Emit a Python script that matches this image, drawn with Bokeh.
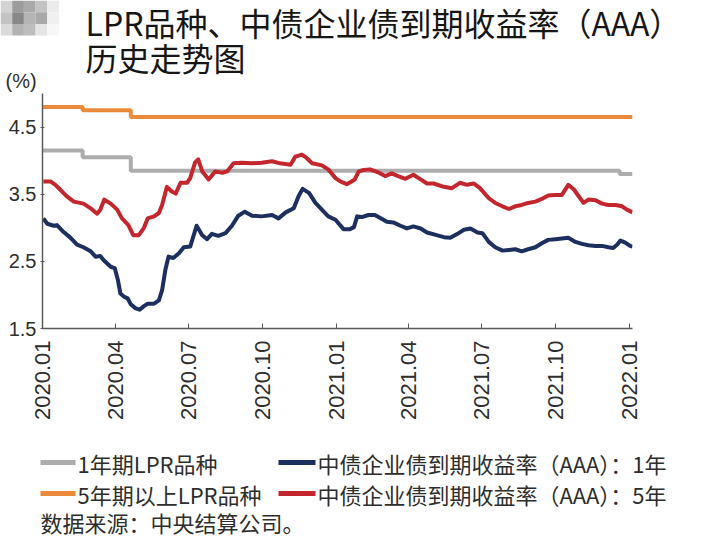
import math
import pandas as pd
from bokeh.plotting import figure
from bokeh.layouts import column
from bokeh.models import Range1d, FixedTicker, DatetimeTickFormatter
from bokeh.core.properties import value
from bokeh.embed import file_html
from bokeh.resources import INLINE

# ---------------- data ----------------
tick_dates = ["2020-01-01", "2020-04-01", "2020-07-01", "2020-10-01", "2021-01-01",
              "2021-04-01", "2021-07-01", "2021-10-01", "2022-01-01"]
tick_labels = ["2020.01", "2020.04", "2020.07", "2020.10", "2021.01",
               "2021.04", "2021.07", "2021.10", "2022.01"]
y_ticks = [1.5, 2.5, 3.5, 4.5]

lpr1_dates = ["2020-01-01", "2020-02-20", "2020-04-20", "2021-12-20", "2022-01-05"]
lpr1_vals = [4.15, 4.05, 3.85, 3.80, 3.80]

lpr5_dates = ["2020-01-01", "2020-02-20", "2020-04-20", "2022-01-05"]
lpr5_vals = [4.80, 4.75, 4.65, 4.65]

aaa1_dates = ["2020-01-02", "2020-01-07", "2020-01-15", "2020-01-19", "2020-01-27", "2020-02-05",
              "2020-02-13", "2020-02-21", "2020-03-01", "2020-03-07", "2020-03-13", "2020-03-17",
              "2020-03-26", "2020-03-31", "2020-04-04", "2020-04-07", "2020-04-12", "2020-04-16",
              "2020-04-20", "2020-04-26", "2020-05-01", "2020-05-06", "2020-05-11", "2020-05-19",
              "2020-05-25", "2020-05-29", "2020-06-02", "2020-06-06", "2020-06-12", "2020-06-19",
              "2020-06-25", "2020-07-03", "2020-07-11", "2020-07-18", "2020-07-24", "2020-07-30",
              "2020-08-07", "2020-08-16", "2020-08-24", "2020-09-01", "2020-09-09", "2020-09-18",
              "2020-09-30", "2020-10-13", "2020-10-21", "2020-10-30", "2020-11-09", "2020-11-15",
              "2020-11-20", "2020-11-28", "2020-12-06", "2020-12-14", "2020-12-22", "2020-12-31",
              "2021-01-10", "2021-01-18", "2021-01-23", "2021-01-27", "2021-02-02", "2021-02-10",
              "2021-02-18", "2021-02-27", "2021-03-05", "2021-03-13", "2021-03-22", "2021-03-30",
              "2021-04-07", "2021-04-16", "2021-04-24", "2021-05-06", "2021-05-15", "2021-05-23",
              "2021-06-01", "2021-06-09", "2021-06-17", "2021-06-26", "2021-07-02", "2021-07-10",
              "2021-07-18", "2021-07-27", "2021-08-04", "2021-08-12", "2021-08-20", "2021-08-28",
              "2021-09-06", "2021-09-14", "2021-09-22", "2021-10-01", "2021-10-09", "2021-10-17",
              "2021-10-26", "2021-11-03", "2021-11-11", "2021-11-20", "2021-11-28", "2021-12-06",
              "2021-12-12", "2021-12-17", "2021-12-21", "2021-12-27", "2022-01-02", "2022-01-05"]
aaa1_vals = [3.14, 3.06, 3.03, 3.04, 2.94, 2.85,
             2.75, 2.71, 2.65, 2.57, 2.58, 2.52,
             2.42, 2.40, 2.22, 2.02, 1.97, 1.95,
             1.86, 1.80, 1.78, 1.83, 1.87, 1.87,
             1.92, 2.07, 2.37, 2.57, 2.55, 2.62,
             2.71, 2.72, 3.03, 2.89, 2.83, 2.91,
             2.88, 2.92, 3.03, 3.18, 3.24, 3.18,
             3.17, 3.19, 3.14, 3.23, 3.29, 3.47,
             3.58, 3.52, 3.37, 3.27, 3.17, 3.12,
             2.98, 2.98, 3.01, 3.17, 3.16, 3.19,
             3.19, 3.13, 3.09, 3.08, 3.03, 2.99,
             3.02, 2.99, 2.93, 2.89, 2.86, 2.85,
             2.91, 2.97, 2.99, 2.93, 2.92, 2.79,
             2.71, 2.66, 2.67, 2.68, 2.65, 2.68,
             2.71, 2.77, 2.82, 2.83, 2.84, 2.85,
             2.79, 2.76, 2.74, 2.73, 2.73, 2.71,
             2.70, 2.75, 2.81, 2.78, 2.73, 2.72]

aaa5_dates = ["2020-01-02", "2020-01-11", "2020-01-17", "2020-01-23", "2020-01-31", "2020-02-09",
              "2020-02-21", "2020-03-01", "2020-03-09", "2020-03-13", "2020-03-18", "2020-03-26",
              "2020-04-03", "2020-04-09", "2020-04-17", "2020-04-23", "2020-04-30", "2020-05-06",
              "2020-05-11", "2020-05-19", "2020-05-25", "2020-05-29", "2020-06-04", "2020-06-10",
              "2020-06-15", "2020-06-21", "2020-06-29", "2020-07-03", "2020-07-09", "2020-07-13",
              "2020-07-18", "2020-07-26", "2020-08-03", "2020-08-12", "2020-08-18", "2020-08-26",
              "2020-09-05", "2020-09-18", "2020-09-30", "2020-10-13", "2020-10-23", "2020-11-05",
              "2020-11-11", "2020-11-19", "2020-11-25", "2020-12-02", "2020-12-14", "2020-12-22",
              "2020-12-31", "2021-01-06", "2021-01-14", "2021-01-20", "2021-01-24", "2021-01-29",
              "2021-02-04", "2021-02-12", "2021-02-23", "2021-03-03", "2021-03-11", "2021-03-19",
              "2021-03-28", "2021-04-07", "2021-04-16", "2021-04-24", "2021-05-02", "2021-05-15",
              "2021-05-25", "2021-06-04", "2021-06-13", "2021-06-21", "2021-06-29", "2021-07-10",
              "2021-07-18", "2021-07-27", "2021-08-04", "2021-08-12", "2021-08-20", "2021-08-28",
              "2021-09-06", "2021-09-14", "2021-09-22", "2021-10-01", "2021-10-09", "2021-10-17",
              "2021-10-24", "2021-10-30", "2021-11-05", "2021-11-11", "2021-11-20", "2021-11-28",
              "2021-12-06", "2021-12-15", "2021-12-23", "2021-12-29", "2022-01-05"]
aaa5_vals = [3.69, 3.69, 3.64, 3.57, 3.47, 3.39,
             3.36, 3.29, 3.21, 3.27, 3.42, 3.36,
             3.27, 3.14, 3.04, 2.89, 2.89, 2.99,
             3.14, 3.17, 3.22, 3.34, 3.61, 3.54,
             3.51, 3.67, 3.67, 3.74, 3.97, 4.02,
             3.84, 3.72, 3.84, 3.82, 3.84, 3.96,
             3.97, 3.96, 3.97, 3.99, 3.96, 3.94,
             4.06, 4.09, 4.04, 3.96, 3.93, 3.87,
             3.74, 3.69, 3.65, 3.69, 3.72, 3.84,
             3.86, 3.87, 3.82, 3.77, 3.81, 3.77,
             3.73, 3.79, 3.72, 3.66, 3.66, 3.61,
             3.59, 3.67, 3.64, 3.66, 3.59, 3.44,
             3.37, 3.32, 3.28, 3.32, 3.34, 3.37,
             3.39, 3.43, 3.48, 3.49, 3.49, 3.64,
             3.57, 3.47, 3.37, 3.42, 3.41, 3.36,
             3.34, 3.34, 3.32, 3.27, 3.23]

series_names = ["1年期LPR品种", "5年期以上LPR品种",
                "中债企业债到期收益率（AAA）：1年", "中债企业债到期收益率（AAA）：5年"]
title_lines = ["LPR品种、中债企业债到期收益率（AAA）", "历史走势图"]
unit_label = "(%)"
source_text = "数据来源：中央结算公司。"

# ---------------- styling ----------------
C_GREY, C_ORANGE, C_NAVY, C_RED = "#ADADAD", "#EC8A3C", "#1C2F5F", "#C4262D"
series_colors = [C_GREY, C_ORANGE, C_NAVY, C_RED]
CJK = "Noto Sans CJK SC"
LAT = "Liberation Sans"
TXT = "#2e2e2e"
AX = "#5a5a5a"
W = 708
H_HEAD, H_MAIN, H_FOOT = 93, 347, 112


def blank_fig(h):
    f = figure(width=W, height=h, x_range=Range1d(0, W), y_range=Range1d(h, 0),
               x_axis_location=None, y_axis_location=None,
               output_backend="svg", toolbar_location=None, frame_align=False,
               min_border=0, min_border_left=0, min_border_right=0,
               min_border_top=0, min_border_bottom=0)
    f.outline_line_color = None
    f.grid.visible = False
    f.background_fill_color = "white"
    f.border_fill_color = "white"
    return f


# ---------------- header: title, unit, blurred logo ----------------
head = blank_fig(H_HEAD)
mosaic = [["#d3d3d3", "#9c9c9c", "#aaaaaa", "#c3c3c3", "#ebebeb"],
          ["#c4c4c4", "#888888", "#b5b5b5", "#a9a9a9", "#f0f0f0"],
          ["#dadada", "#b3b3b3", "#bdbdbd", "#e5e5e5", "#f7f7f7"]]
ql, qr, qt, qb, qc = [], [], [], [], []
for i, row in enumerate(mosaic):
    for j, c in enumerate(row):
        ql.append(j * 11.7); qr.append((j + 1) * 11.7)
        qt.append(i * 11.7); qb.append((i + 1) * 11.7); qc.append(c)
head.quad(left=ql, right=qr, top=qt, bottom=qb, fill_color=qc, line_color=None)
head.text(x=[85, 85], y=[21, 56], text=title_lines, text_font=value(CJK),
          text_font_size="32px", text_color="#161616", text_baseline="middle")
head.text(x=[5], y=[80], text=[unit_label], text_font=value(LAT),
          text_font_size="20px", text_color=TXT, text_baseline="middle")

# ---------------- main chart ----------------
d = pd.to_datetime
p = figure(width=W, height=H_MAIN, x_axis_type="datetime", output_backend="svg",
           toolbar_location=None, frame_align=False,
           min_border_left=42, min_border_right=76,
           min_border_top=0, min_border_bottom=112,
           x_range=Range1d(d("2020-01-01"), d("2022-01-05")),
           y_range=Range1d(1.5, 5.0))
p.outline_line_color = None
p.grid.visible = False
p.background_fill_color = "white"
p.border_fill_color = "white"

p.step(d(lpr1_dates), lpr1_vals, mode="after", line_color=C_GREY, line_width=4)
p.step(d(lpr5_dates), lpr5_vals, mode="after", line_color=C_ORANGE, line_width=4)
p.line(d(aaa1_dates), aaa1_vals, line_color=C_NAVY, line_width=4, line_join="round")
p.line(d(aaa5_dates), aaa5_vals, line_color=C_RED, line_width=4, line_join="round")

tick_ms = [d(t).value / 1e6 for t in tick_dates]
xa = p.xaxis[0]
xa.ticker = FixedTicker(ticks=tick_ms)
xa.formatter = DatetimeTickFormatter(days="%Y.%m", months="%Y.%m", years="%Y.%m")
xa.major_label_overrides = {t: lab for t, lab in zip(tick_ms, tick_labels)}
xa.major_label_orientation = math.pi / 2
xa.major_label_text_font = LAT
xa.major_label_text_font_size = "22px"
xa.major_label_text_color = TXT
xa.major_label_standoff = 12
xa.major_tick_in = 5
xa.major_tick_out = 0
xa.minor_tick_line_color = None
xa.axis_line_color = AX
xa.major_tick_line_color = AX
xa.axis_line_width = 1.5

ya = p.yaxis[0]
ya.ticker = FixedTicker(ticks=y_ticks)
ya.major_label_text_font = LAT
ya.major_label_text_font_size = "20px"
ya.major_label_text_color = TXT
ya.major_label_standoff = 4
ya.major_tick_in = 2
ya.major_tick_out = 2
ya.minor_tick_line_color = None
ya.axis_line_color = AX
ya.major_tick_line_color = AX
ya.axis_line_width = 1.5

# ---------------- footer: legend and source ----------------
foot = blank_fig(H_FOOT)
y0 = 440
leg_x0 = [40, 40, 278, 278]
leg_x1 = [75, 75, 315, 315]
leg_y = [462 - y0, 493 - y0, 462 - y0, 493 - y0]
foot.segment(x0=leg_x0, x1=leg_x1, y0=leg_y, y1=leg_y, line_color=series_colors,
             line_width=5)
foot.text(x=[x + 2 for x in leg_x1], y=leg_y, text=series_names, text_font=value(CJK),
          text_font_size="22px", text_color=TXT, text_baseline="middle")
foot.text(x=[40], y=[521 - y0], text=[source_text], text_font=value(CJK),
          text_font_size="22px", text_color=TXT, text_baseline="middle")

layout = column(head, p, foot, spacing=0)
open("out.html", "w").write(file_html(layout, INLINE))
